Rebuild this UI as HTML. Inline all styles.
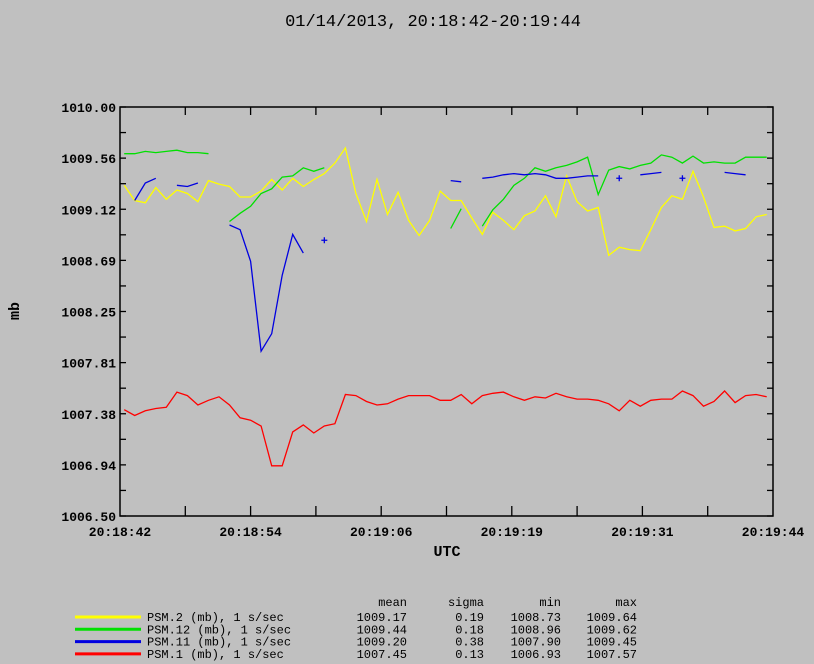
<!DOCTYPE html>
<html><head><meta charset="utf-8"><style>
html,body{margin:0;padding:0;background:#c0c0c0;}
svg{display:block;font-family:"Liberation Mono",monospace;}
</style></head><body>
<svg id="chart" width="814" height="664" viewBox="0 0 814 664" xmlns="http://www.w3.org/2000/svg">
<rect x="0" y="0" width="814" height="664" fill="#c0c0c0"/>
<text x="433" y="26" font-size="17" text-anchor="middle" fill="#000">01/14/2013, 20:18:42-20:19:44</text>
<g id="axes"></g>
<g id="series"></g>
<text x="447" y="556" font-size="15" font-weight="bold" text-anchor="middle">UTC</text>
<text x="19" y="311" font-size="15" font-weight="bold" text-anchor="middle" transform="rotate(-90 19 311)">mb</text>
<g id="legend"></g>
</svg>
<script>
const yTicks = ["1006.50","1006.94","1007.38","1007.81","1008.25","1008.69","1009.12","1009.56","1010.00"];
const xTicks = ["20:18:42","20:18:54","20:19:06","20:19:19","20:19:31","20:19:44"];
const yellowVals = [1009.33,1009.20,1009.18,1009.31,1009.21,1009.29,1009.26,1009.19,1009.37,1009.34,1009.32,1009.23,1009.23,1009.28,1009.38,1009.29,1009.39,1009.32,1009.38,1009.43,1009.52,1009.65,1009.26,1009.02,1009.38,1009.08,1009.27,1009.03,1008.90,1009.03,1009.28,1009.20,1009.20,1009.05,1008.91,1009.10,1009.03,1008.95,1009.07,1009.11,1009.24,1009.06,1009.41,1009.19,1009.11,1009.14,1008.73,1008.80,1008.78,1008.77,1008.95,1009.14,1009.24,1009.21,1009.45,1009.23,1008.97,1008.98,1008.94,1008.96,1009.06,1009.08];
const greenVals = [1009.60,1009.60,1009.62,1009.61,1009.62,1009.63,1009.61,1009.61,1009.60,null,1009.02,1009.09,1009.15,1009.26,1009.30,1009.40,1009.41,1009.48,1009.45,1009.48,null,null,null,null,null,null,null,null,null,null,null,1008.96,1009.13,null,1008.98,1009.12,1009.21,1009.33,1009.39,1009.48,1009.45,1009.48,1009.50,1009.53,1009.57,1009.25,1009.46,1009.49,1009.47,1009.50,1009.52,1009.59,1009.57,1009.52,1009.58,1009.52,1009.53,1009.52,1009.52,1009.57,1009.57,1009.57];
const blueVals = [null,1009.20,1009.35,1009.39,null,1009.33,1009.32,1009.35,null,null,1008.99,1008.95,1008.68,1007.91,1008.06,1008.56,1008.91,1008.75,null,1008.86,null,null,null,null,null,null,null,null,null,null,null,1009.37,1009.36,null,1009.39,1009.40,1009.42,1009.43,1009.42,1009.43,1009.42,1009.39,1009.39,1009.40,1009.41,1009.41,null,1009.39,null,1009.42,1009.43,1009.44,null,1009.39,null,null,null,1009.44,1009.43,1009.42,null,null];
const redVals = [1007.41,1007.36,1007.40,1007.42,1007.43,1007.56,1007.53,1007.45,1007.49,1007.52,1007.45,1007.34,1007.32,1007.27,1006.93,1006.93,1007.22,1007.28,1007.21,1007.27,1007.29,1007.54,1007.53,1007.48,1007.45,1007.46,1007.50,1007.53,1007.53,1007.53,1007.49,1007.49,1007.54,1007.46,1007.53,1007.55,1007.56,1007.52,1007.49,1007.52,1007.51,1007.55,1007.52,1007.50,1007.50,1007.49,1007.46,1007.40,1007.49,1007.44,1007.49,1007.50,1007.50,1007.57,1007.53,1007.44,1007.48,1007.57,1007.47,1007.53,1007.54,1007.52];
const legendNames = ["PSM.2 (mb), 1 s/sec","PSM.12 (mb), 1 s/sec","PSM.11 (mb), 1 s/sec","PSM.1 (mb), 1 s/sec"];
const legendMean = ["1009.17","1009.44","1009.20","1007.45"];
const legendSigma = ["0.19","0.18","0.38","0.13"];
const legendMin = ["1008.73","1008.96","1007.90","1006.93"];
const legendMax = ["1009.64","1009.62","1009.45","1007.57"];

const NS="http://www.w3.org/2000/svg";
const L=120,R=773,T=107,B=516;
const yMin=1006.5,yMax=1010.0,tSpan=62,t0=0.4;
function ys(v){return B-(v-yMin)/(yMax-yMin)*(B-T);}
function xs(i){return L+(t0+i)/tSpan*(R-L);}
function mk(tag,attrs,parent){const e=document.createElementNS(NS,tag);for(const k in attrs)e.setAttribute(k,attrs[k]);parent.appendChild(e);return e;}
const axes=document.getElementById('axes');
const frame=mk('rect',{x:L,y:T,width:R-L,height:B-T,fill:'none',stroke:'#000','stroke-width':1.5},axes);


const nY=yTicks.length-1;
for(let i=0;i<=nY*2;i++){
  const y=B-i/(nY*2)*(B-T);
  const a=mk('line',{x1:L,x2:L+6,y1:y,y2:y,stroke:'#000','stroke-width':1.3},axes);
  
  
  const b=mk('line',{x1:R-6,x2:R,y1:y,y2:y,stroke:'#000','stroke-width':1.3},axes);
  
  
}
yTicks.forEach((s,i)=>{
  const y=B-i/nY*(B-T);
  const t=mk('text',{x:116,y:y+5,'font-size':13,'font-weight':'bold','text-anchor':'end'},axes);
  t.textContent=s;
  
  
});
const nX=xTicks.length-1;
for(let i=1;i<nX*2;i++){
  const x=L+i/(nX*2)*(R-L);
  const a=mk('line',{x1:x,x2:x,y1:T,y2:T+8,stroke:'#000','stroke-width':1.3},axes);
  
  
  const b=mk('line',{x1:x,x2:x,y1:B-10,y2:B,stroke:'#000','stroke-width':1.3},axes);
  
  
}
xTicks.forEach((s,i)=>{
  const x=L+i/nX*(R-L);
  const t=mk('text',{x:x,y:536,'font-size':13,'font-weight':'bold','text-anchor':'middle'},axes);
  t.textContent=s;
  
  
});
const ser=document.getElementById('series');
function drawSeries(vals,color,name){
  const g=mk('g',{},ser);
  
  
  let seg=[];
  const flush=()=>{
    if(seg.length>1){
      const p=mk('polyline',{points:seg.map(q=>q[0].toFixed(1)+','+q[1].toFixed(1)).join(' '),fill:'none',stroke:color,'stroke-width':1.3},g);
      
      
    } else if(seg.length==1){
      const x=seg[0][0],y=seg[0][1];
      const p=mk('path',{d:`M${x-3},${y}H${x+3}M${x},${y-3}V${y+3}`,stroke:color,'stroke-width':1.3,fill:'none'},g);
      
      
    }
    seg=[];
  };
  vals.forEach((v,i)=>{ if(v==null){flush();} else seg.push([xs(i),ys(v)]); });
  flush();
}
drawSeries(redVals,'#ff0000','series-psm1');
drawSeries(yellowVals,'#ffff00','series-psm2');
drawSeries(greenVals,'#00e000','series-psm12');
drawSeries(blueVals,'#0000e0','series-psm11');

const leg=document.getElementById('legend');
const colors=['#ffff00','#00e000','#0000e0','#ff0000'];
const hdr=[['mean',407],['sigma',484],['min',561],['max',637]];
hdr.forEach(([s,x])=>{
  const t=mk('text',{x:x,y:606,'font-size':12,'text-anchor':'end'},leg);
  t.textContent=s;
  
  
});
legendNames.forEach((n,i)=>{
  const y=617+i*12.3;
  const ln=mk('line',{x1:75,x2:141,y1:y,y2:y,stroke:colors[i],'stroke-width':3},leg);
  
  
  const t=mk('text',{x:147,y:y+4,'font-size':12},leg);
  t.textContent=n;
  
  
  [[legendMean,407],[legendSigma,484],[legendMin,561],[legendMax,637]].forEach(([arr,x])=>{
    const s=mk('text',{x:x,y:y+4,'font-size':12,'text-anchor':'end'},leg);
    s.textContent=arr[i];
    
    
  });
});
</script>
</body></html>
